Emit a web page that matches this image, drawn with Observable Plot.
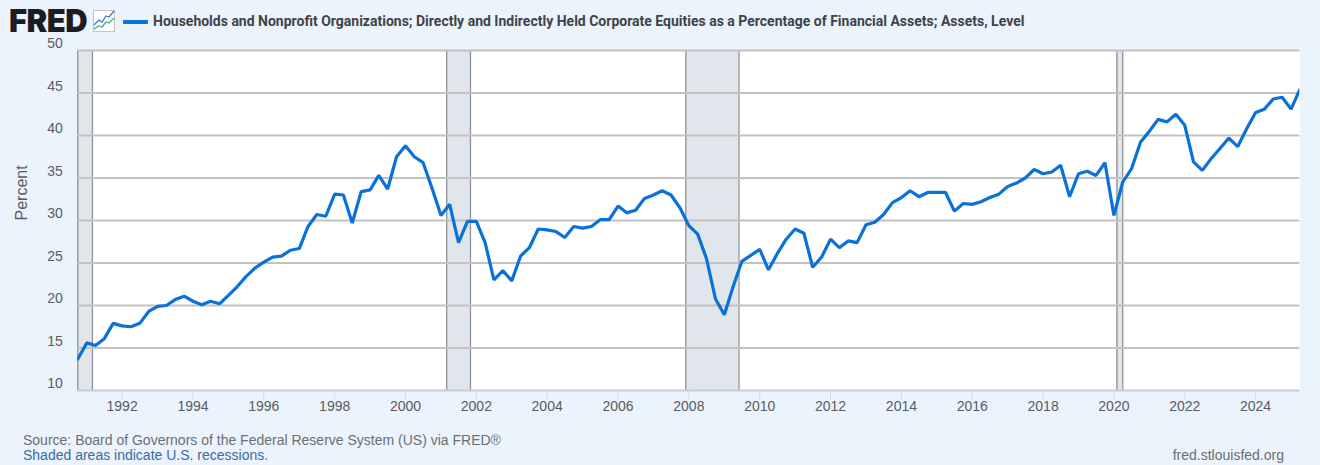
<!DOCTYPE html>
<html>
<head>
<meta charset="utf-8">
<script src="https://cdn.jsdelivr.net/npm/d3@7"></script>
<script src="https://cdn.jsdelivr.net/npm/@observablehq/plot@0.6"></script>
<style>
html,body{margin:0;padding:0;background:#ebf3fc;}
body{width:1320px;height:465px;overflow:hidden;position:relative;font-family:"Liberation Sans",Arial,sans-serif;}
#head{position:relative;height:30px;}
#logo{position:absolute;left:9px;top:9px;font:900 31px/24px Inter,Roboto,sans-serif;letter-spacing:-0.5px;color:#1c1c22;}
#icon{position:absolute;left:93px;top:10px;width:22px;height:22px;background:url("data:image/svg+xml,%3Csvg xmlns='http://www.w3.org/2000/svg' width='22' height='22'%3E%3Crect x='.5' y='.5' width='21' height='21' fill='%23fff' stroke='%23c4c4c4'/%3E%3Cpolyline points='1,15 6,10 9,12 13,6 16,7 21,1' fill='none' stroke='%233c78d0' stroke-width='1.3'/%3E%3Cpolyline points='1,19 6,16 9,17 13,12 16,13 21,8' fill='none' stroke='%2340b090' stroke-width='1.3'/%3E%3C/svg%3E");}
#key{position:absolute;left:123px;top:20px;width:25px;height:3.5px;border-radius:1px;background:#0a71d8;}
#title{position:absolute;left:153px;top:13px;font:700 14px/16px Roboto,sans-serif;color:#3f4347;white-space:nowrap;}
#foot{position:absolute;left:0;top:423px;width:1320px;height:42px;font-size:14px;line-height:15px;}
#src{position:absolute;left:23px;top:10px;color:#6c6f73;white-space:nowrap;}
#note{position:absolute;left:23px;top:25px;color:#3b6ba5;white-space:nowrap;}
#site{position:absolute;right:36px;top:25px;color:#6c6f73;white-space:nowrap;}
svg{display:block;}
</style>
</head>
<body>
<div id="head">
  <div id="logo">FRED</div><div id="icon"></div><div id="key"></div>
  <div id="title">Households and Nonprofit Organizations; Directly and Indirectly Held Corporate Equities as a Percentage of Financial Assets; Assets, Level</div>
</div>
<div id="chart"></div>
<div id="foot">
  <div id="src">Source: Board of Governors of the Federal Reserve System (US) via FRED®</div>
  <div id="note">Shaded areas indicate U.S. recessions.</div>
  <div id="site">fred.stlouisfed.org</div>
</div>
<script>
const firstQuarter = "1990-10-01";
const lastQuarter = "2025-04-01";
const equityShare = [
13.7,15.6,15.3,16.1,17.9,17.6,17.5,17.9,19.3,19.9,
20.0,20.7,21.1,20.5,20.1,20.5,20.2,21.2,22.2,23.4,
24.4,25.1,25.7,25.8,26.5,26.7,29.3,30.7,30.5,33.1,
33.0,29.7,33.4,33.6,35.3,33.7,37.5,38.8,37.5,36.8,
33.8,30.6,31.9,27.4,29.9,29.9,27.4,23.0,24.1,22.9,
25.8,26.8,29.0,28.9,28.7,28.0,29.3,29.1,29.3,30.1,
30.1,31.7,30.9,31.2,32.6,33.0,33.5,33.0,31.5,29.4,
28.4,25.5,20.8,18.9,22.2,25.2,25.9,26.6,24.2,26.1,
27.8,29.0,28.5,24.5,25.7,27.8,26.8,27.6,27.4,29.5,
29.8,30.7,32.1,32.7,33.5,32.8,33.3,33.3,33.3,31.1,
32.0,31.9,32.2,32.7,33.1,34.0,34.4,35.0,36.0,35.5,
35.7,36.5,32.8,35.5,35.8,35.3,36.8,30.6,34.5,36.1,
39.2,40.5,41.9,41.6,42.5,41.2,36.9,35.9,37.3,38.5,
39.7,38.7,40.8,42.7,43.1,44.3,44.5,43.1,45.4];
const recessionStarts = ["1990-10-01","2001-03-01","2007-12-01","2020-02-01"];
const recessionEnds = ["1991-03-01","2001-11-01","2009-06-01","2020-04-01"];
const yTicks = [10,15,20,25,30,35,40,45,50];
const xTickYears = [1992,1994,1996,1998,2000,2002,2004,2006,2008,2010,2012,2014,2016,2018,2020,2022,2024];

const quarters = d3.utcMonth.range(new Date(firstQuarter), d3.utcMonth.offset(new Date(lastQuarter),1), 3);
const series = equityShare.map((v,i)=>({date:quarters[i],value:v}));
const recessions = recessionStarts.map((s,i)=>({x1:new Date(s),x2:new Date(recessionEnds[i])}));
const xTicks = xTickYears.map(y=>new Date(Date.UTC(y,0,1)));
const recessionEdges = recessions.flatMap(r=>[r.x1,r.x2]);

const chart = Plot.plot({
  width:1320,height:393,
  marginTop:20,marginBottom:33,marginLeft:77.3,marginRight:20.7,
  style:{background:"transparent",fontFamily:'"Liberation Sans",Arial,sans-serif',fontSize:"14px",color:"#595c60"},
  x:{type:"utc",domain:[new Date(firstQuarter),new Date(lastQuarter)],label:null},
  y:{domain:[10,50],label:null},
  marks:[
    Plot.frame({fill:"#fff",stroke:"none"}),
    Plot.rectY(recessions,{x1:"x1",x2:"x2",y1:10,y2:50,fill:"#e1e5ec"}),
    Plot.ruleX(recessionEdges,{stroke:"#8f9296",strokeWidth:1.3}),
    Plot.ruleY(yTicks.filter(d=>d>10),{stroke:"#c2c2c2",strokeWidth:2}),
    Plot.ruleY([10],{stroke:"#c5cdd6",strokeWidth:2}),
    Plot.axisX({ticks:xTicks,tickFormat:d3.utcFormat("%Y"),tickSize:9,tickPadding:2,stroke:"#d0d8e2",strokeOpacity:1,label:null,fontSize:14}),
    Plot.axisY({ticks:yTicks,tickSize:0,tickPadding:15,dy:-6.5,label:null,fontSize:14}),
    Plot.text(["Percent"],{frameAnchor:"left",rotate:-90,dx:-56,fontSize:16,fill:"#595c60"}),
    Plot.line(series,{x:"date",y:"value",stroke:"#0a71d8",strokeWidth:3.2,strokeLinejoin:"miter",clip:true})
  ]
});
document.getElementById("chart").appendChild(chart);
</script>
</body>
</html>
